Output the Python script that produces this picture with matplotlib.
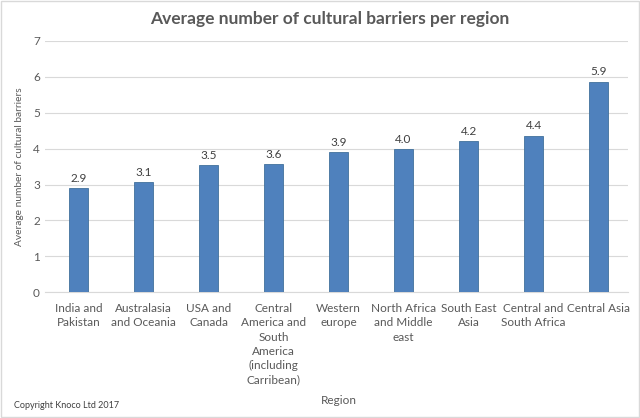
import matplotlib.pyplot as plt
import numpy as np

plt.rcParams["font.family"] = ["Lato", "DejaVu Sans"]

regions = [
    "India and\nPakistan",
    "Australasia\nand Oceania",
    "USA and\nCanada",
    "Central\nAmerica and\nSouth\nAmerica\n(including\nCarribean)",
    "Western\neurope",
    "North Africa\nand Middle\neast",
    "South East\nAsia",
    "Central and\nSouth Africa",
    "Central Asia",
]
avg_barriers = [2.9, 3.07, 3.54, 3.57, 3.9, 3.99, 4.21, 4.36, 5.87]

TEXT = "#595959"
BAR = "#4F81BD"

fig = plt.figure(figsize=(6.4, 4.18), dpi=100)
fig.patches.append(plt.Rectangle((0.002, 0.002), 0.996, 0.996, transform=fig.transFigure,
                                 fill=False, edgecolor="#D9D9D9", linewidth=1))
ax = fig.add_axes([0.07, 0.301, 0.911, 0.601])

x = np.arange(len(regions))
bars = ax.bar(x, avg_barriers, width=0.29, color=BAR, edgecolor="#41719C", linewidth=0.6, zorder=3)
for b, v in zip(bars, avg_barriers):
    ax.text(b.get_x() + b.get_width() / 2, v + 0.12, f"{v:.1f}", ha="center", va="bottom",
            fontsize=8.5, color="#404040")

ax.set_xlim(-0.52, 8.45)
ax.set_ylim(0, 7)
ax.set_yticks(range(0, 8))
ax.yaxis.grid(True, color="#D9D9D9", linewidth=0.8, zorder=0)
ax.set_xticks(x)
ax.set_xticklabels(regions, fontsize=8.5, color=TEXT, linespacing=1.35)
ax.tick_params(axis="both", length=0, colors=TEXT, labelsize=8.5)
ax.tick_params(axis="x", pad=8)
for side in ["top", "right", "left"]:
    ax.spines[side].set_visible(False)
ax.spines["bottom"].set_color("#D9D9D9")

fig.text(0.031, 0.601, "Average number of cultural barriers", rotation=90, ha="center",
         va="center", fontsize=7.3, color=TEXT)
fig.text(0.515, 0.955, "Average number of cultural barriers per region", ha="center",
         va="center", fontsize=12.5, fontweight="bold", color=TEXT)
fig.text(0.53, 0.042, "Region", ha="center", va="center", fontsize=8.5, color=TEXT)
fig.text(0.022, 0.03, "Copyright Knoco Ltd 2017", ha="left", va="center", fontsize=6.5, color="#404040")

fig.savefig("out.png", dpi=100)
